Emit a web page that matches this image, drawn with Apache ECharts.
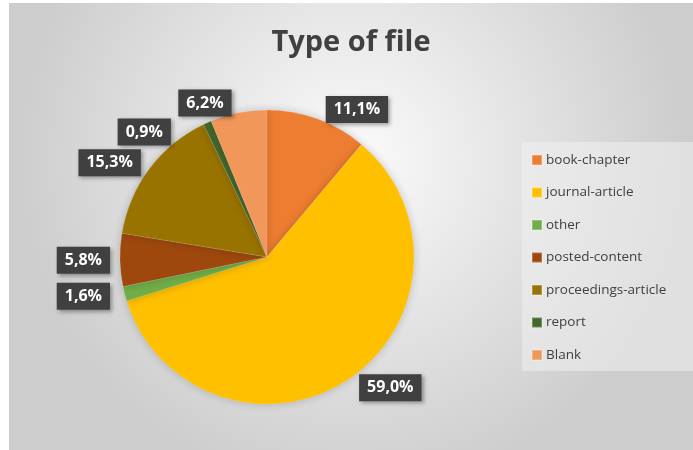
<!DOCTYPE html>
<html>
<head>
<meta charset="utf-8">
<script src="https://cdn.jsdelivr.net/npm/echarts@6/dist/echarts.min.js"></script>
<style>
  html, body { margin: 0; padding: 0; background: #fff; }
  #chart { position: absolute; left: 9px; top: 3px; width: 684px; height: 447px; }
</style>
</head>
<body>
<div id="chart"></div>
<script>
// data (percent of files)
var categories = ['book-chapter', 'journal-article', 'other', 'posted-content', 'proceedings-article', 'report', 'Blank'];
var values = [11.1, 59.0, 1.6, 5.8, 15.3, 0.9, 6.2];
var colors = ['#ED7D31', '#FFC000', '#70AD47', '#9E480E', '#997300', '#43682B', '#F1975A'];

var chart = echarts.init(document.getElementById('chart'));

var pieData = [];
for (var i = 0; i < categories.length; i++) {
    pieData.push({ name: categories[i], value: values[i], itemStyle: { color: colors[i] } });
}

var option = {
    backgroundColor: {
        type: 'radial', x: 0.5, y: 0.35, r: 0.75,
        colorStops: [
            { offset: 0, color: '#fbfbfb' },
            { offset: 1, color: '#cdcdcd' }
        ]
    },
    animation: false,
    title: {
        text: 'Type of file',
        left: 'center',
        top: 20,
        textStyle: { fontFamily: 'Open Sans', fontSize: 29, fontWeight: 'bold', color: '#404040' }
    },
    legend: {
        orient: 'vertical',
        left: 513,
        top: 139,
        width: 168,
        itemWidth: 10,
        itemHeight: 10,
        itemGap: 18.5,
        icon: 'rect',
        padding: [11, 30, 9, 9],
        backgroundColor: 'rgba(240,240,240,0.55)',
        textStyle: { fontFamily: 'Open Sans', fontSize: 13.5, color: '#404040', padding: [0, 0, 0, -1] },
        data: categories
    },
    series: [{
        type: 'pie',
        center: [258, 254],
        radius: 147,
        startAngle: 90,
        clockwise: true,
        data: pieData,
        itemStyle: {
            borderColor: 'rgba(255,255,255,0.25)',
            borderWidth: 0.5,
            shadowBlur: 8,
            shadowColor: 'rgba(0,0,0,0.2)'
        },
        label: {
            position: 'outside',
            formatter: function (p) { return p.value.toFixed(1).replace('.', ',') + '%'; },
            fontFamily: 'Open Sans',
            fontSize: 16,
            fontWeight: 'bold',
            color: '#fff',
            backgroundColor: '#404040',
            padding: [6, 8, 5, 8],
            shadowBlur: 4,
            shadowOffsetX: 2,
            shadowOffsetY: 2,
            shadowColor: 'rgba(0,0,0,0.35)'
        },
        labelLine: { show: false, length: 10, length2: 0 },
        emphasis: { disabled: true }
    }]
};

chart.setOption(option);
</script>
</body>
</html>
